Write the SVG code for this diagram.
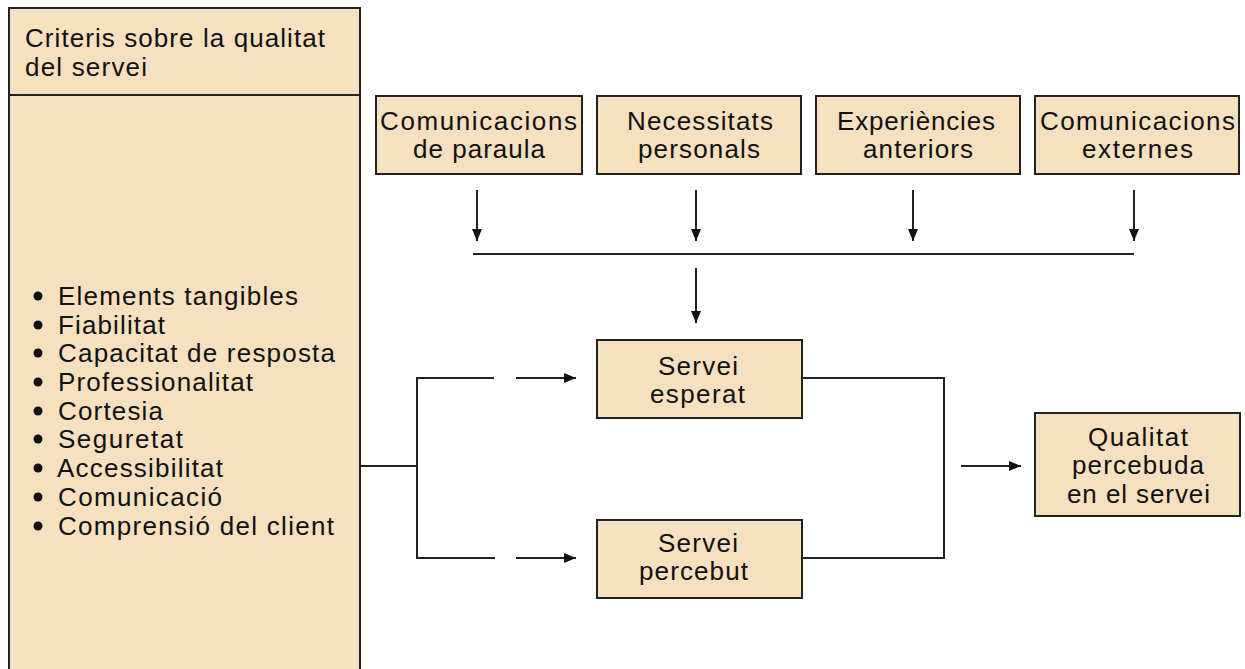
<svg xmlns="http://www.w3.org/2000/svg" width="1245" height="669" viewBox="0 0 1245 669">
<style>
.box{fill:#F5E0C0;stroke:#222;stroke-width:2}
.t{font-family:"Liberation Sans",Arial,sans-serif;font-size:26px;fill:#111}
.ln{fill:none;stroke:#222;stroke-width:2}
.dot{fill:#111}
</style>
<defs>
<marker id="ah" viewBox="0 0 12 10" refX="12" refY="5" markerWidth="12" markerHeight="10" markerUnits="userSpaceOnUse" orient="auto">
<path d="M0,0 L12,5 L0,10 z" fill="#111"/>
</marker>
</defs>
<rect width="1245" height="669" fill="#fff"/>

<g id="criteris">
<path class="box" d="M9,680 L9,8 L360,8 L360,680"/>
<line class="ln" x1="9" y1="95" x2="360" y2="95"/>
<text class="t" x="25" y="47" textLength="300" lengthAdjust="spacing">Criteris sobre la qualitat</text>
<text class="t" x="25" y="76" textLength="122" lengthAdjust="spacing">del servei</text>
<g>
<circle class="dot" cx="38" cy="296" r="4.5"/>
<circle class="dot" cx="38" cy="325" r="4.5"/>
<circle class="dot" cx="38" cy="353" r="4.5"/>
<circle class="dot" cx="38" cy="382" r="4.5"/>
<circle class="dot" cx="38" cy="411" r="4.5"/>
<circle class="dot" cx="38" cy="439" r="4.5"/>
<circle class="dot" cx="38" cy="468" r="4.5"/>
<circle class="dot" cx="38" cy="497" r="4.5"/>
<circle class="dot" cx="38" cy="526" r="4.5"/>
</g>
<text class="t" x="58" y="305" textLength="240" lengthAdjust="spacing">Elements tangibles</text>
<text class="t" x="58" y="334" textLength="107" lengthAdjust="spacing">Fiabilitat</text>
<text class="t" x="58" y="362" textLength="277" lengthAdjust="spacing">Capacitat de resposta</text>
<text class="t" x="58" y="391" textLength="195" lengthAdjust="spacing">Professionalitat</text>
<text class="t" x="58" y="420" textLength="105" lengthAdjust="spacing">Cortesia</text>
<text class="t" x="58" y="448" textLength="125" lengthAdjust="spacing">Seguretat</text>
<text class="t" x="57" y="477" textLength="166" lengthAdjust="spacing">Accessibilitat</text>
<text class="t" x="58" y="506" textLength="164" lengthAdjust="spacing">Comunicació</text>
<text class="t" x="58" y="535" textLength="276" lengthAdjust="spacing">Comprensió del client</text>
</g>

<g id="com-paraula">
<rect class="box" x="376" y="96" width="206" height="78"/>
<text class="t" x="380" y="130" textLength="197" lengthAdjust="spacing">Comunicacions</text>
<text class="t" x="413" y="158" textLength="132" lengthAdjust="spacing">de paraula</text>
</g>
<g id="necessitats">
<rect class="box" x="597" y="96" width="204" height="78"/>
<text class="t" x="627" y="130" textLength="146" lengthAdjust="spacing">Necessitats</text>
<text class="t" x="638" y="158" textLength="122" lengthAdjust="spacing">personals</text>
</g>
<g id="experiencies">
<rect class="box" x="816" y="96" width="204" height="78"/>
<text class="t" x="837" y="130" textLength="158" lengthAdjust="spacing">Experiències</text>
<text class="t" x="863" y="158" textLength="110" lengthAdjust="spacing">anteriors</text>
</g>
<g id="com-externes">
<rect class="box" x="1035" y="96" width="204" height="78"/>
<text class="t" x="1040" y="130" textLength="195" lengthAdjust="spacing">Comunicacions</text>
<text class="t" x="1082" y="158" textLength="111" lengthAdjust="spacing">externes</text>
</g>

<g id="servei-esperat">
<rect class="box" x="597" y="340" width="205" height="78"/>
<text class="t" x="658" y="375" textLength="80" lengthAdjust="spacing">Servei</text>
<text class="t" x="650" y="403" textLength="95" lengthAdjust="spacing">esperat</text>
</g>
<g id="servei-percebut">
<rect class="box" x="597" y="520" width="205" height="78"/>
<text class="t" x="658" y="552" textLength="80" lengthAdjust="spacing">Servei</text>
<text class="t" x="639" y="580" textLength="109" lengthAdjust="spacing">percebut</text>
</g>
<g id="qualitat">
<rect class="box" x="1035" y="413" width="205" height="103"/>
<text class="t" x="1088" y="446" textLength="100" lengthAdjust="spacing">Qualitat</text>
<text class="t" x="1072" y="474" textLength="132" lengthAdjust="spacing">percebuda</text>
<text class="t" x="1067" y="503" textLength="143" lengthAdjust="spacing">en el servei</text>
</g>

<g id="connectors">
<line class="ln" x1="477" y1="190" x2="477" y2="241" marker-end="url(#ah)"/>
<line class="ln" x1="696" y1="190" x2="696" y2="241" marker-end="url(#ah)"/>
<line class="ln" x1="913" y1="190" x2="913" y2="241" marker-end="url(#ah)"/>
<line class="ln" x1="1134" y1="190" x2="1134" y2="241" marker-end="url(#ah)"/>
<line class="ln" x1="473" y1="254" x2="1134" y2="254"/>
<line class="ln" x1="696" y1="268" x2="696" y2="323" marker-end="url(#ah)"/>
<line class="ln" x1="360" y1="466" x2="417" y2="466"/>
<path class="ln" d="M494,378 L417,378 L417,558 L495,558"/>
<line class="ln" x1="516" y1="378" x2="576" y2="378" marker-end="url(#ah)"/>
<line class="ln" x1="516" y1="558" x2="576" y2="558" marker-end="url(#ah)"/>
<path class="ln" d="M802,378 L944,378 L944,558 L802,558"/>
<line class="ln" x1="961" y1="466" x2="1021" y2="466" marker-end="url(#ah)"/>
</g>
</svg>
